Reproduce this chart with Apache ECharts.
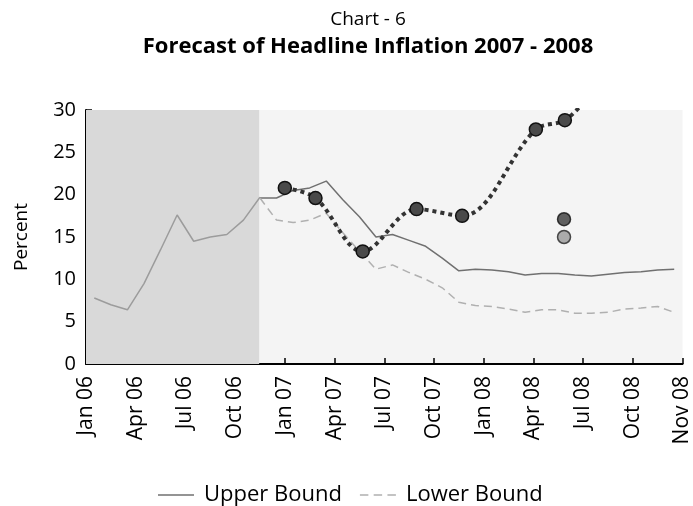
<!DOCTYPE html>
<html>
<head>
<meta charset="utf-8">
<script src="https://cdn.jsdelivr.net/npm/echarts@6/dist/echarts.min.js"></script>
<style>
  html, body { margin: 0; padding: 0; background: #fff; }
  #main { width: 693px; height: 506px; }
</style>
</head>
<body>
<div id="main"></div>
<script>
// months counted from Jan 06 (0) to the last tick (36)
const tickLabels = ['Jan 06', 'Apr 06', 'Jul 06', 'Oct 06', 'Jan 07', 'Apr 07', 'Jul 07',
  'Oct 07', 'Jan 08', 'Apr 08', 'Jul 08', 'Oct 08', 'Nov 08']

// actual inflation, monthly Jan 06 - Nov 06
const actual = [7.8, 7.0, 6.4, 9.5, 13.5, 17.6, 14.5, 15.0, 15.3, 17.0, 19.7]

// forecast band, monthly Nov 06 - Dec 08
const bandStart = 10
const upperBound = [19.6, 19.6, 20.5, 20.8, 21.6, 19.4, 17.4, 15.0, 15.3, 14.6, 13.9, 12.5, 11.0,
  11.2, 11.1, 10.9, 10.5, 10.7, 10.7, 10.5, 10.4, 10.6, 10.8, 10.9, 11.1, 11.2]
const lowerBound = [19.6, 17.0, 16.7, 17.0, 17.8, 15.5, 13.3, 11.2, 11.7, 10.8, 10.0, 9.0, 7.3,
  6.9, 6.8, 6.5, 6.1, 6.4, 6.4, 6.0, 6.0, 6.1, 6.5, 6.6, 6.8, 6.1]

// realised points (dotted path), month position and value
const pointMonth = [12.0, 13.85, 16.7, 19.95, 22.7, 27.15, 28.9, 30.3]
const pointValue = [20.8, 19.6, 13.3, 18.3, 17.5, 27.7, 28.8, 31.5]

// single points in Jun 08
const darkMonth = [28.85]
const darkValue = [17.1]
const greyMonth = [28.85]
const greyValue = [15.0]

const shadeEnd = 10.45

const monthly = (vals, start) => vals.map((v, i) => [start + i + 0.5, v])
const pairs = (xs, ys) => xs.map((x, i) => [x, ys[i]])

const font = "'Open Sans', 'Noto Sans', sans-serif"
const myChart = echarts.init(document.getElementById('main'))
const option = {
  animation: false,
  title: [
    {
      text: 'Chart - 6',
      left: 363,
      top: 5,
      textAlign: 'center',
      textStyle: { fontFamily: font, fontSize: 19, fontWeight: 'normal', color: '#000' },
    },
    {
      text: 'Forecast of Headline Inflation 2007 - 2008',
      left: 363,
      top: 31,
      textAlign: 'center',
      textStyle: { fontFamily: font, fontSize: 22, fontWeight: 'bold', color: '#000' },
    },
  ],
  legend: {
    bottom: -5,
    left: 153,
    itemWidth: 36,
    itemHeight: 10,
    itemGap: 18,
    textStyle: { fontFamily: font, fontSize: 22, color: '#000', padding: [0, 0, 0, 5] },
    data: [
      { name: 'Upper Bound', icon: 'path://M0,4.3H36V5.7H0Z' },
      { name: 'Lower Bound', icon: 'path://M0,4.3H8V5.7H0ZM13,4.3H21V5.7H13ZM26,4.3H34V5.7H26Z' },
    ],
  },
  grid: {
    left: 86,
    right: 6,
    top: 110,
    bottom: 142,
    show: true,
    backgroundColor: '#f4f4f4',
    borderWidth: 0,
  },
  xAxis: {
    type: 'value',
    min: 0,
    max: 36,
    interval: 3,
    splitLine: { show: false },
    axisLine: { lineStyle: { color: '#000', width: 2 } },
    axisTick: { inside: true, length: 6, lineStyle: { color: '#000', width: 1.5 } },
    axisLabel: {
      rotate: 90,
      margin: 12,
      fontFamily: font,
      fontSize: 21,
      color: '#000',
      showMinLabel: true,
      showMaxLabel: true,
      formatter: (v) => tickLabels[Math.round(v / 3)] || '',
    },
  },
  yAxis: {
    type: 'value',
    min: 0,
    max: 30,
    interval: 5,
    name: 'Percent',
    nameLocation: 'middle',
    nameRotate: 90,
    nameGap: 55,
    nameTextStyle: { fontFamily: font, fontSize: 19, color: '#000' },
    splitLine: { show: false },
    axisLine: { show: true, lineStyle: { color: '#000', width: 2 } },
    axisTick: { show: true, inside: true, length: 6, lineStyle: { color: '#000', width: 1.5 } },
    axisLabel: { margin: 10, fontFamily: font, fontSize: 20, color: '#000' },
  },
  series: [
    {
      name: 'Actual',
      type: 'line',
      symbol: 'none',
      lineStyle: { color: '#9c9c9c', width: 1.5 },
      data: monthly(actual, 0),
      markArea: {
        silent: true,
        itemStyle: { color: '#d9d9d9' },
        data: [[{ xAxis: 0 }, { xAxis: shadeEnd }]],
      },
      z: 3,
    },
    {
      name: 'Upper Bound',
      type: 'line',
      symbol: 'none',
      itemStyle: { color: '#707070' },
      lineStyle: { color: '#707070', width: 1.5 },
      data: monthly(upperBound, bandStart),
      z: 3,
    },
    {
      name: 'Lower Bound',
      type: 'line',
      symbol: 'none',
      itemStyle: { color: '#b0b0b0' },
      lineStyle: { color: '#b0b0b0', width: 1.5, type: [8, 5] },
      data: monthly(lowerBound, bandStart),
      z: 3,
    },
    {
      name: 'Outturn',
      type: 'line',
      smooth: 0.35,
      clip: true,
      symbol: 'circle',
      symbolSize: 13,
      lineStyle: { color: '#333', width: 4, type: [4, 4] },
      itemStyle: { color: '#4a4a4a', borderColor: '#111', borderWidth: 1.5 },
      data: pairs(pointMonth, pointValue),
      z: 5,
    },
    {
      name: 'Point A',
      type: 'scatter',
      symbolSize: 13,
      itemStyle: { color: '#3a3a3a', borderColor: '#111', borderWidth: 1.5 },
      data: pairs(darkMonth, darkValue),
      z: 5,
    },
    {
      name: 'Point B',
      type: 'scatter',
      symbolSize: 13,
      itemStyle: { color: '#999', borderColor: '#222', borderWidth: 1.5 },
      data: pairs(greyMonth, greyValue),
      z: 5,
    },
  ],
}
option && myChart.setOption(option)
</script>
</body>
</html>
